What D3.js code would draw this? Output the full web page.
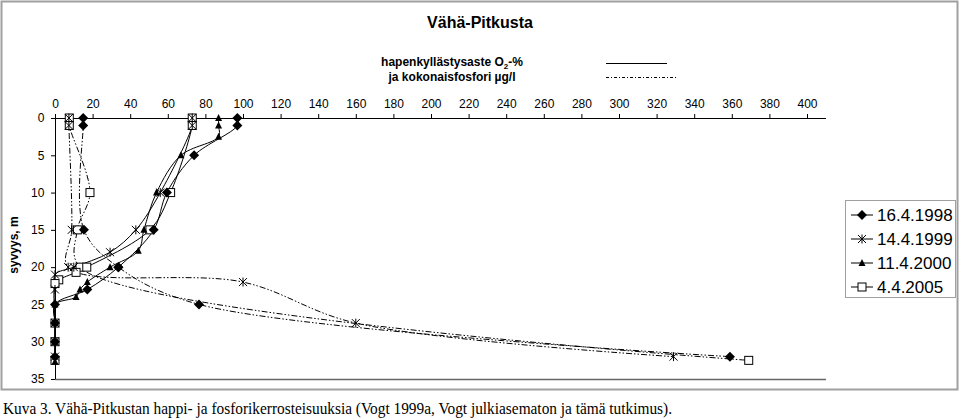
<!DOCTYPE html>
<html><head><meta charset="utf-8">
<script src="https://cdn.jsdelivr.net/npm/d3@7"></script>
<style>
body{margin:0;background:#fff;}
svg{display:block;}
</style></head>
<body>
<svg id="chart" width="960" height="418"></svg>
<script>
// ---- data ----
const xTicks = [0,20,40,60,80,100,120,140,160,180,200,220,240,260,280,300,320,340,360,380,400];
const yTicks = [0,5,10,15,20,25,30,35];
const seriesNames = ["16.4.1998","14.4.1999","11.4.2000","4.4.2005"];
const seriesMarkers = ["diamond","asterisk","triangle","square"];

// oxygen saturation (%), solid lines
const o2Depth1998 = [0,1,5,10,15,20,23,25,27.5,30,32];
const o2Value1998 = [97,97,74,59.5,52.5,33.7,17.2,0,0,0,0];
const o2Depth1999 = [0,1,10,15,18,20,21,23,27.5,30,32];
const o2Value1999 = [73,73,56,43,29.3,10,0,0,0,0,0];
const o2Depth2000 = [0,1,2.5,5,10,15,17.8,20,22,23,24,25,27.5,30,32.7];
const o2Value2000 = [87,87,87,67,54,47.3,44.3,29.3,17.2,13.3,11.2,0,0,0,0];
const o2Depth2005 = [0,1,10,15,20,20.7,21.7,22.2,27.5,30,32.5];
const o2Value2005 = [73,73,61.5,50.5,16.9,11.2,2,0,0,0,0];

// total phosphorus (µg/l), dash-dot lines
const pDepth1998 = [0,1,15,20,25,32];
const pValue1998 = [15,15,15.4,33.7,76.6,359];
const pDepth1999 = [0,1,15,20,22,27.5,32];
const pValue1999 = [7.4,7.4,8.9,7,100,160,329];
const pDepth2005 = [0,1,10,15,20,32.5];
const pValue2005 = [7.6,7.6,18.6,11.9,13.3,369];

const o2Series = [
  {name:seriesNames[0], marker:seriesMarkers[0], depth:o2Depth1998, value:o2Value1998},
  {name:seriesNames[1], marker:seriesMarkers[1], depth:o2Depth1999, value:o2Value1999},
  {name:seriesNames[2], marker:seriesMarkers[2], depth:o2Depth2000, value:o2Value2000},
  {name:seriesNames[3], marker:seriesMarkers[3], depth:o2Depth2005, value:o2Value2005}
];
const pSeries = [
  {name:seriesNames[0], marker:seriesMarkers[0], depth:pDepth1998, value:pValue1998},
  {name:seriesNames[1], marker:seriesMarkers[1], depth:pDepth1999, value:pValue1999},
  {name:seriesNames[3], marker:seriesMarkers[3], depth:pDepth2005, value:pValue2005}
];

// ---- drawing ----
const svg = d3.select("#chart");
const FONT = "'Liberation Sans', Arial, sans-serif";
const plotLeft = 55, plotRight = 826, plotTop = 118, plotBottom = 379;
const x = d3.scaleLinear().domain([0,400]).range([plotLeft, 807]);
const y = d3.scaleLinear().domain([0,35]).range([plotTop, plotBottom]);

// outer border
svg.append("rect").attr("x",1.5).attr("y",1.5).attr("width",956).attr("height",388)
  .attr("fill","#fff").attr("stroke","#a0a0a0").attr("stroke-width",2);

// title
svg.append("text").attr("x",480).attr("y",28).attr("text-anchor","middle")
  .attr("font-family",FONT).attr("font-size",16).attr("font-weight","bold").text("Vähä-Pitkusta");

// line-style legend
const lt1 = svg.append("text").attr("x",452).attr("y",66).attr("text-anchor","middle")
  .attr("font-family",FONT).attr("font-size",12).attr("font-weight","bold");
lt1.append("tspan").text("hapenkyllästysaste O");
lt1.append("tspan").attr("font-size",8).attr("dy",3).text("2");
lt1.append("tspan").attr("dy",-3).text("-%");
svg.append("text").attr("x",452).attr("y",81).attr("text-anchor","middle")
  .attr("font-family",FONT).attr("font-size",12).attr("font-weight","bold").text("ja kokonaisfosfori µg/l");
svg.append("line").attr("x1",606).attr("x2",667).attr("y1",63.5).attr("y2",63.5)
  .attr("stroke","#000").attr("stroke-width",1);
svg.append("line").attr("x1",606).attr("x2",676).attr("y1",77.5).attr("y2",77.5)
  .attr("stroke","#000").attr("stroke-width",1).attr("stroke-dasharray","3,2,1,2");

// axes
const topAxis = d3.axisTop(x).tickValues(xTicks).tickSize(4).tickSizeOuter(0);
const gTop = svg.append("g").attr("transform",`translate(0,${plotTop})`).call(topAxis);
gTop.select(".domain").remove();
gTop.selectAll("text").attr("font-family",FONT).attr("font-size",12).attr("fill","#000").attr("dy","-0.25em");
gTop.selectAll("line").attr("stroke","#000");

const leftAxis = d3.axisLeft(y).tickValues(yTicks).tickSize(4).tickSizeOuter(0);
const gLeft = svg.append("g").attr("transform",`translate(${plotLeft},0)`).call(leftAxis);
gLeft.select(".domain").remove();
gLeft.selectAll("text").attr("font-family",FONT).attr("font-size",12).attr("fill","#000").attr("dx","-0.3em");
gLeft.selectAll("line").attr("stroke","#000");

svg.append("line").attr("x1",plotLeft).attr("x2",plotRight).attr("y1",plotTop+0.5).attr("y2",plotTop+0.5)
  .attr("stroke","#000").attr("stroke-width",1);
svg.append("line").attr("x1",plotLeft).attr("x2",plotRight).attr("y1",plotBottom+0.5).attr("y2",plotBottom+0.5)
  .attr("stroke","#000").attr("stroke-width",1.5).attr("stroke-opacity",0.6);
svg.append("line").attr("x1",plotLeft+0.5).attr("x2",plotLeft+0.5).attr("y1",plotTop).attr("y2",plotBottom)
  .attr("stroke","#000").attr("stroke-width",1);

svg.append("text").attr("transform","translate(18,245) rotate(-90)").attr("text-anchor","middle")
  .attr("font-family",FONT).attr("font-size",12).attr("font-weight","bold").text("syvyys, m");

// marker helper
function drawMarker(g, type, cx, cy) {
  if (type === "diamond") {
    const r = 5;
    g.append("path").attr("d",`M${cx},${cy-r}L${cx+r},${cy}L${cx},${cy+r}L${cx-r},${cy}Z`).attr("fill","#000");
  } else if (type === "triangle") {
    g.append("path").attr("d",`M${cx},${cy-4}L${cx+3.5},${cy+3}L${cx-3.5},${cy+3}Z`).attr("fill","#000");
  } else if (type === "square") {
    g.append("rect").attr("x",cx-4).attr("y",cy-4).attr("width",8).attr("height",8)
      .attr("fill","#fff").attr("stroke","#000").attr("stroke-width",1);
  } else if (type === "asterisk") {
    const r = 4;
    g.append("path").attr("d",`M${cx-r},${cy-r}L${cx+r},${cy+r}M${cx-r},${cy+r}L${cx+r},${cy-r}M${cx},${cy-r-0.5}L${cx},${cy+r+0.5}`)
      .attr("stroke","#000").attr("stroke-width",1).attr("fill","none");
  }
}

const line = d3.line().curve(d3.curveCatmullRom.alpha(0.5));
const gData = svg.append("g");

function drawSeries(s, dashed) {
  const pts = s.depth.map((d,i)=>[x(s.value[i]), y(d)]);
  gData.append("path").attr("d", line(pts)).attr("fill","none").attr("stroke","#000")
    .attr("stroke-width",1).attr("stroke-dasharray", dashed ? "6,2,1.5,2,1.5,2" : null);
}
pSeries.forEach(s=>drawSeries(s,true));
o2Series.forEach(s=>drawSeries(s,false));
// markers: later years first so the black markers stay on top
pSeries.slice().reverse().concat(o2Series.slice().reverse()).forEach(s=>{
  s.depth.forEach((d,i)=>drawMarker(gData, s.marker, x(s.value[i]), y(d)));
});

// series legend
const lg = svg.append("g");
lg.append("rect").attr("x",845.5).attr("y",200.5).attr("width",110).attr("height",97)
  .attr("fill","#fff").attr("stroke","#a0a0a0").attr("stroke-width",1);
seriesNames.forEach((n,i)=>{
  const cy = 215 + i*24;
  lg.append("line").attr("x1",851).attr("x2",873).attr("y1",cy).attr("y2",cy).attr("stroke","#000");
  drawMarker(lg, seriesMarkers[i], 862, cy);
  lg.append("text").attr("x",877).attr("y",cy+6).attr("font-family",FONT).attr("font-size",17).text(n);
});

// caption
svg.append("text").attr("x",3).attr("y",414).attr("font-family","'Liberation Serif','Times New Roman',serif")
  .attr("font-size",16).attr("textLength",669).attr("lengthAdjust","spacingAndGlyphs")
  .text("Kuva 3. Vähä-Pitkustan happi- ja fosforikerrosteisuuksia (Vogt 1999a, Vogt julkiasematon ja tämä tutkimus).");
</script>
</body></html>
